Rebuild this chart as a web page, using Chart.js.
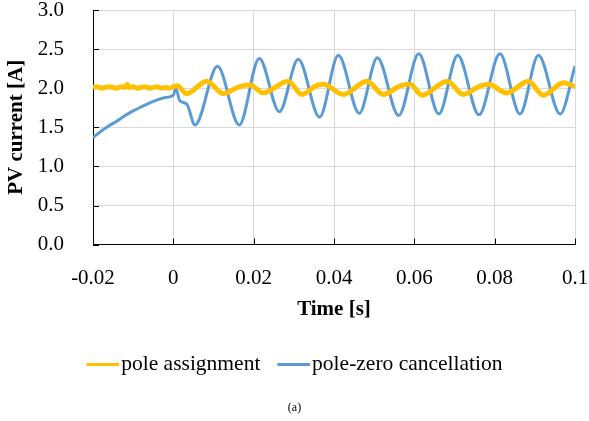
<!DOCTYPE html>
<html>
<head>
<meta charset="utf-8">
<script src="https://cdn.jsdelivr.net/npm/chart.js@4/dist/chart.umd.min.js"></script>
<style>
  html, body { margin: 0; padding: 0; background: #fff; }
  #wrap { width: 589px; height: 421px; }
</style>
</head>
<body>
<div id="wrap"><canvas id="chart"></canvas></div>
<script>
'use strict';

// pole assignment (time [s], current [A])
const paTime = [-0.02, -0.019, -0.018, -0.017, -0.016, -0.015, -0.014, -0.013, -0.012, -0.0115, -0.011, -0.01,
  -0.009, -0.008, -0.007, -0.006, -0.005, -0.004, -0.003, -0.002, -0.001, 0,
  0.001, 0.0033, 0.0083, 0.0124, 0.0165, 0.0191, 0.0224, 0.0286, 0.032, 0.0355, 0.0374, 0.0423,
  0.0482, 0.0523, 0.0565, 0.059, 0.0619, 0.0682, 0.0722, 0.076, 0.0785, 0.083, 0.0884, 0.0921,
  0.0971, 0.1];
const paCurrent = [2.01, 2.02, 2.00, 2.01, 2.02, 2.01, 2.00, 2.02, 2.01, 2.05, 2.01, 2.02,
  2.00, 2.01, 2.02, 2.00, 2.01, 2.02, 2.00, 2.01, 2.00, 2.02,
  2.03, 1.93, 2.09, 1.93, 2.02, 2.04, 1.94, 2.09, 1.92, 2.03, 2.05, 1.92,
  2.09, 1.92, 2.03, 2.05, 1.91, 2.09, 1.92, 2.02, 2.05, 1.94, 2.09, 1.91,
  2.07, 2.02];

// pole-zero cancellation
const pzTime = [-0.02, -0.018, -0.016, -0.014, -0.012, -0.01, -0.008, -0.006, -0.004, -0.002, 0,
  0.0006, 0.0016, 0.0033, 0.0054, 0.011, 0.0164, 0.0214, 0.0264, 0.0311, 0.0364, 0.0411,
  0.0463, 0.0508, 0.0561, 0.0611, 0.0661, 0.0708, 0.0761, 0.0813, 0.0863, 0.0909, 0.0963, 0.1];
const pzCurrent = [1.37, 1.45, 1.52, 1.58, 1.65, 1.71, 1.76, 1.81, 1.85, 1.88, 1.91,
  2.00, 1.84, 1.80, 1.53, 2.28, 1.53, 2.38, 1.70, 2.37, 1.63, 2.42,
  1.68, 2.39, 1.65, 2.44, 1.67, 2.42, 1.66, 2.44, 1.67, 2.42, 1.67, 2.28];

const xTicks = [-0.02, 0, 0.02, 0.04, 0.06, 0.08, 0.1];
const yTicks = [0, 0.5, 1.0, 1.5, 2.0, 2.5, 3.0];

const toPoints = (xs, ys) => xs.map((x, i) => ({ x, y: ys[i] }));

const serif = "'Liberation Serif', 'Times New Roman', serif";
Chart.defaults.font.family = serif;
Chart.defaults.color = '#000';

// legend marker: short line that sits right against the label text
function legendLine(color) {
  const c = document.createElement('canvas');
  c.width = 42;
  c.height = 3;
  const g = c.getContext('2d');
  g.fillStyle = color;
  g.fillRect(9, 0, 33, 3);
  return c;
}

// excel-style tick marks pointing into the plot
const innerTicks = {
  id: 'innerTicks',
  beforeDatasetsDraw(chart) {
    const { ctx, chartArea, scales } = chart;
    ctx.save();
    ctx.strokeStyle = '#000';
    ctx.lineWidth = 1;
    ctx.beginPath();
    xTicks.forEach(v => {
      const px = Math.round(scales.x.getPixelForValue(v)) + 0.5;
      ctx.moveTo(px, chartArea.bottom);
      ctx.lineTo(px, chartArea.bottom - 6);
    });
    yTicks.forEach(v => {
      const py = Math.round(scales.y.getPixelForValue(v)) + 0.5;
      ctx.moveTo(chartArea.left, py);
      ctx.lineTo(chartArea.left + 6, py);
    });
    ctx.stroke();
    ctx.restore();
  }
};

new Chart(document.getElementById('chart'), {
  type: 'line',
  data: {
    datasets: [{
      label: 'pole assignment',
      data: toPoints(paTime, paCurrent),
      borderColor: '#FFC000',
      backgroundColor: '#FFC000',
      borderWidth: 5,
      pointRadius: 0,
      cubicInterpolationMode: 'monotone'
    }, {
      label: 'pole-zero cancellation',
      data: toPoints(pzTime, pzCurrent),
      borderColor: '#5B9BD5',
      backgroundColor: '#5B9BD5',
      borderWidth: 3,
      pointRadius: 0,
      cubicInterpolationMode: 'monotone'
    }]
  },
  options: {
    responsive: true,
    maintainAspectRatio: false,
    animation: false,
    layout: { padding: 0 },
    scales: {
      x: {
        type: 'linear',
        min: -0.02,
        max: 0.1,
        afterBuildTicks: s => { s.ticks = xTicks.map(v => ({ value: v })); },
        afterFit: s => { s.height = 92.5; s.paddingRight = 14; },
        ticks: {
          color: '#000',
          padding: 21,
          maxRotation: 0,
          font: { family: serif, size: 21 },
          callback: v => String(Math.round(v * 100) / 100)
        },
        grid: { color: '#d9d9d9', drawTicks: false },
        border: { color: '#000', width: 1 },
        title: {
          display: true,
          text: 'Time [s]',
          color: '#000',
          font: { family: serif, size: 21, weight: 'bold' },
          padding: { top: 0, bottom: 15 }
        }
      },
      y: {
        min: 0,
        max: 3,
        afterBuildTicks: s => { s.ticks = yTicks.map(v => ({ value: v })); },
        afterFit: s => { s.width = 93; s.paddingTop = 10; s.paddingBottom = 10; },
        ticks: {
          color: '#000',
          padding: 29,
          font: { family: serif, size: 21 },
          callback: v => v.toFixed(1)
        },
        grid: { color: '#d9d9d9', drawTicks: false },
        border: { color: '#000', width: 1 },
        title: {
          display: true,
          text: 'PV current [A]',
          color: '#000',
          font: { family: serif, size: 21, weight: 'bold' },
          padding: { top: 4, bottom: 0 }
        }
      }
    },
    plugins: {
      tooltip: { enabled: false },
      legend: {
        position: 'bottom',
        labels: {
          color: '#000',
          font: { family: serif, size: 21.5 },
          usePointStyle: true,
          pointStyleWidth: 24,
          padding: 17,
          generateLabels(chart) {
            const items = Chart.defaults.plugins.legend.labels.generateLabels(chart);
            items.forEach((it, i) => {
              it.pointStyle = legendLine(chart.data.datasets[i].borderColor);
            });
            return items;
          }
        }
      },
      title: {
        display: true,
        position: 'bottom',
        text: '(a)',
        color: '#000',
        font: { family: serif, size: 12, weight: 'normal' },
        padding: { top: 15, bottom: 6 }
      }
    }
  },
  plugins: [innerTicks]
});
</script>
</body>
</html>
